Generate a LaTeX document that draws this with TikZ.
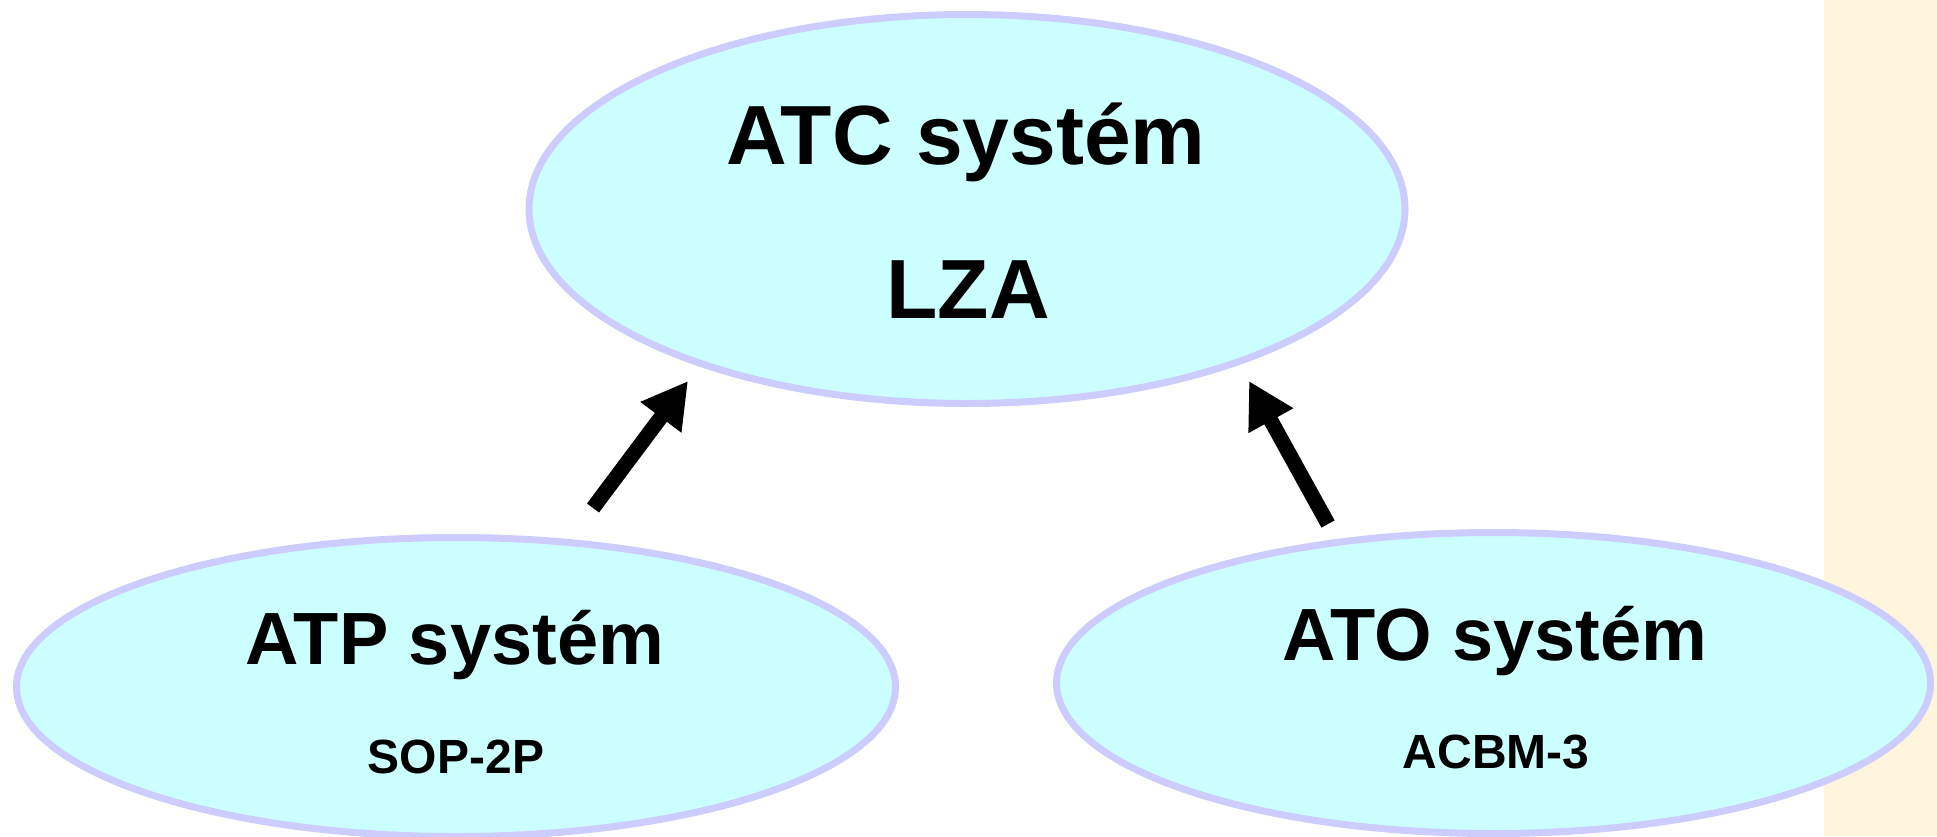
\documentclass[tikz,border=0pt]{standalone}
\usepackage{fontspec}
\setmainfont{Liberation Sans}
\usetikzlibrary{arrows.meta,shapes.geometric}
\definecolor{ellfill}{HTML}{CCFFFF}
\definecolor{elldraw}{HTML}{CCCCFF}
\definecolor{panel}{HTML}{FEF5DC}
\tikzset{
  sysell/.style={ellipse, draw=elldraw, fill=ellfill, line width=5.25pt, inner sep=0pt},
  bigtxt/.style={anchor=base, inner sep=0pt, font=\bfseries\fontsize{63}{63}\selectfont},
  midtxt/.style={anchor=base, inner sep=0pt, font=\bfseries\fontsize{55.5}{56}\selectfont},
  smalltxt/.style={anchor=base, inner sep=0pt, font=\bfseries\fontsize{36}{36}\selectfont},
  fatarrow/.style={line width=11.25pt, -{Triangle[length=34pt, width=36pt]}}
}
\begin{document}
\begin{tikzpicture}[x=0.75pt,y=-0.75pt]
\useasboundingbox (0,0) rectangle (1937,836);
\fill[panel] (1824,0) rectangle (1937,836);
% ellipses
\node[sysell, minimum width=657pt, minimum height=291.75pt] (atc) at (967,209) {};
\node[sysell, minimum width=659.25pt, minimum height=224.25pt] (atp) at (456,687) {};
\node[sysell, minimum width=655.5pt, minimum height=225.75pt] (ato) at (1493.5,683) {};
% texts
\node[bigtxt] (atct) at (966,164) {ATC systém};
\node[bigtxt] (lza) at (968,318) {LZA};
\node[midtxt] (atpt) at (455,664) {ATP systém};
\node[smalltxt] (sop) at (456,773) {SOP-2P};
\node[midtxt] (atot) at (1495,660) {ATO systém};
\node[smalltxt] (acbm) at (1496,768) {ACBM-3};
% arrows
\coordinate (lefttail) at (593,508);
\coordinate (lefttip) at (688,381);
\coordinate (righttail) at (1328,524);
\coordinate (righttip) at (1249,381);
\draw[fatarrow] (lefttail) -- (lefttip);
\draw[fatarrow] (righttail) -- (righttip);
\end{tikzpicture}
\end{document}
